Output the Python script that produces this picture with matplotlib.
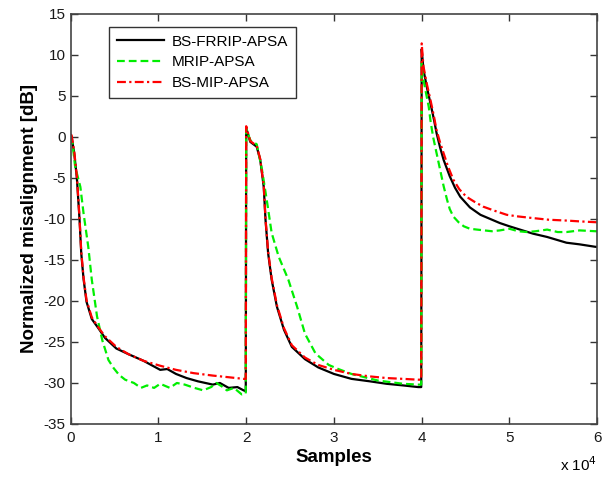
# misalignment.py
# Normalized misalignment learning curves of three APSA variants.

import matplotlib.pyplot as plt

plt.rcParams['font.family'] = ['Liberation Sans', 'DejaVu Sans']
plt.rcParams['axes.unicode_minus'] = False

# sample positions in units of 1e4 samples, values in dB
frrip_x = [0.0, 0.01, 0.04, 0.07, 0.1, 0.12, 0.146, 0.18, 0.24, 0.32, 0.39, 0.52, 0.66, 0.83, 1.02, 1.1, 1.2, 1.32, 1.45,
           1.62, 1.7, 1.8, 1.9, 1.97, 1.995,
           2.0, 2.046, 2.12, 2.16, 2.2, 2.22, 2.25, 2.29, 2.35, 2.43, 2.52, 2.67, 2.82, 3.0, 3.2, 3.41, 3.6, 3.79, 3.96, 3.995,
           4.0, 4.02, 4.06, 4.1, 4.14, 4.17, 4.21, 4.25, 4.32, 4.38, 4.44, 4.55, 4.67, 4.78, 4.89, 5.0, 5.12, 5.27, 5.43,
           5.65, 5.8, 5.98, 6.0]
frrip_y = [0.2, 0.0, -2.0, -5.0, -10.0, -14.2, -17.3, -20.1, -22.2, -23.4, -24.5, -25.8, -26.5, -27.3, -28.4, -28.3, -28.9, -29.4, -29.8,
           -30.2, -30.0, -30.6, -30.5, -30.9, -31.0,
           1.1, -0.6, -1.2, -2.8, -6.1, -10.1, -14.2, -17.4, -20.7, -23.5, -25.6, -27.1, -28.1, -28.9, -29.5, -29.8, -30.1, -30.3, -30.5, -30.5,
           10.7, 8.2, 6.0, 4.1, 2.1, 0.45, -1.3, -2.8, -4.8, -6.2, -7.3, -8.6, -9.5, -10.0, -10.5, -10.9, -11.3, -11.8, -12.2,
           -12.9, -13.1, -13.4, -13.4]

mrip_x = [0.0, 0.02, 0.05, 0.11, 0.146, 0.2, 0.24, 0.3, 0.36, 0.43, 0.49, 0.55, 0.62, 0.72, 0.8, 0.87, 0.95, 1.02, 1.13, 1.21,
          1.3, 1.41, 1.51, 1.6, 1.66, 1.72, 1.78, 1.86, 1.95, 1.995,
          2.0, 2.046, 2.12, 2.18, 2.24, 2.29, 2.37, 2.48, 2.58, 2.67, 2.79, 2.94, 3.05, 3.2, 3.5, 3.79, 3.96, 3.995,
          4.0, 4.02, 4.05, 4.08, 4.1, 4.13, 4.17, 4.21, 4.25, 4.29, 4.32, 4.36, 4.42, 4.48, 4.55, 4.63, 4.8, 4.89, 5.0,
          5.1, 5.2, 5.3, 5.43, 5.55, 5.65, 5.8, 5.98, 6.0]
mrip_y = [0.0, -0.8, -3.6, -6.1, -9.3, -13.4, -17.4, -21.9, -24.8, -27.2, -28.2, -29.0, -29.6, -30.0, -30.6, -30.3, -30.6, -30.1, -30.6, -30.0,
          -30.2, -30.6, -30.9, -30.5, -30.0, -30.4, -30.9, -30.6, -31.4, -31.3,
          1.0, -0.4, -0.9, -4.0, -8.1, -11.7, -14.6, -17.4, -20.7, -24.0, -26.4, -27.8, -28.3, -28.9, -29.7, -30.1, -30.2, -30.2,
          9.0, 7.0, 5.3, 3.7, 2.0, 0.0, -2.0, -4.0, -6.0, -7.7, -8.8, -9.7, -10.4, -10.9, -11.2, -11.3, -11.5, -11.4, -11.2,
          -11.5, -11.6, -11.5, -11.3, -11.6, -11.6, -11.4, -11.5, -11.5]

mip_x = [0.0, 0.01, 0.04, 0.07, 0.1, 0.12, 0.146, 0.18, 0.24, 0.32, 0.39, 0.52, 0.66, 0.83, 1.02, 1.2, 1.4, 1.62, 1.8,
         1.97, 1.995,
         2.0, 2.046, 2.12, 2.16, 2.2, 2.22, 2.25, 2.29, 2.35, 2.43, 2.52, 2.67, 2.82, 3.0, 3.2, 3.41, 3.6, 3.79, 3.96, 3.995,
         4.0, 4.02, 4.06, 4.1, 4.14, 4.17, 4.21, 4.25, 4.3, 4.36, 4.43, 4.51, 4.6, 4.7, 4.83, 4.97, 5.1, 5.27, 5.45,
         5.65, 5.8, 5.98, 6.0]
mip_y = [0.3, 0.2, -1.8, -4.8, -9.8, -14.0, -17.1, -19.9, -22.0, -23.3, -24.3, -25.6, -26.5, -27.3, -27.9, -28.4, -28.8, -29.1, -29.3,
         -29.5, -29.5,
         1.3, -0.5, -1.1, -2.7, -6.0, -10.0, -14.0, -17.2, -20.5, -23.3, -25.4, -26.9, -27.8, -28.4, -28.9, -29.2, -29.4, -29.5, -29.6, -29.6,
         11.4, 8.6, 6.4, 4.5, 2.5, 0.8, -0.7, -2.0, -3.6, -5.2, -6.4, -7.3, -7.9, -8.5, -9.0, -9.5, -9.7, -9.9, -10.1,
         -10.2, -10.3, -10.4, -10.4]

xticks = [0, 1, 2, 3, 4, 5, 6]
yticks = [-35, -30, -25, -20, -15, -10, -5, 0, 5, 10, 15]

fig = plt.figure(figsize=(6.15, 4.78), dpi=100)
ax = fig.add_axes([0.115, 0.113, 0.856, 0.858])

ax.plot([v * 1e4 for v in frrip_x], frrip_y, color='black', lw=1.6, label='BS-FRRIP-APSA')
ax.plot([v * 1e4 for v in mrip_x], mrip_y, color='#00ee00', lw=1.6, ls=(0, (3.5, 1.8)), label='MRIP-APSA')
ax.plot([v * 1e4 for v in mip_x], mip_y, color='red', lw=1.6, ls=(0, (4, 1.5, 1, 1.5)), label='BS-MIP-APSA')

ax.set_xlim(0, 6e4)
ax.set_ylim(-35, 15)
ax.set_xticks([t * 1e4 for t in xticks])
ax.set_xticklabels([str(t) for t in xticks])
ax.set_yticks(yticks)
ax.tick_params(direction='in', top=True, right=True, length=5, width=1, labelsize=11,
               colors='#333333', labelcolor='#1a1a1a')
ax.tick_params(axis='x', pad=5)
for s in ax.spines.values():
    s.set_color('#444444')
    s.set_linewidth(1.2)

ax.set_xlabel('Samples', fontsize=13.5, fontweight='bold', labelpad=3)
ax.set_ylabel('Normalized misalignment [dB]', fontsize=13.5, fontweight='bold', labelpad=4)
ax.text(1.0, -0.115, r'x 10$^4$', transform=ax.transAxes, ha='right', va='baseline', fontsize=11)

leg = ax.legend(loc='upper left', bbox_to_anchor=(0.073, 0.968), borderaxespad=0, fontsize=11, frameon=True,
                fancybox=False, handlelength=3.1, borderpad=0.5, labelspacing=0.45, handletextpad=0.5)
leg.get_frame().set_edgecolor('black')
leg.get_frame().set_linewidth(1.0)

fig.savefig('out.png', dpi=100)
